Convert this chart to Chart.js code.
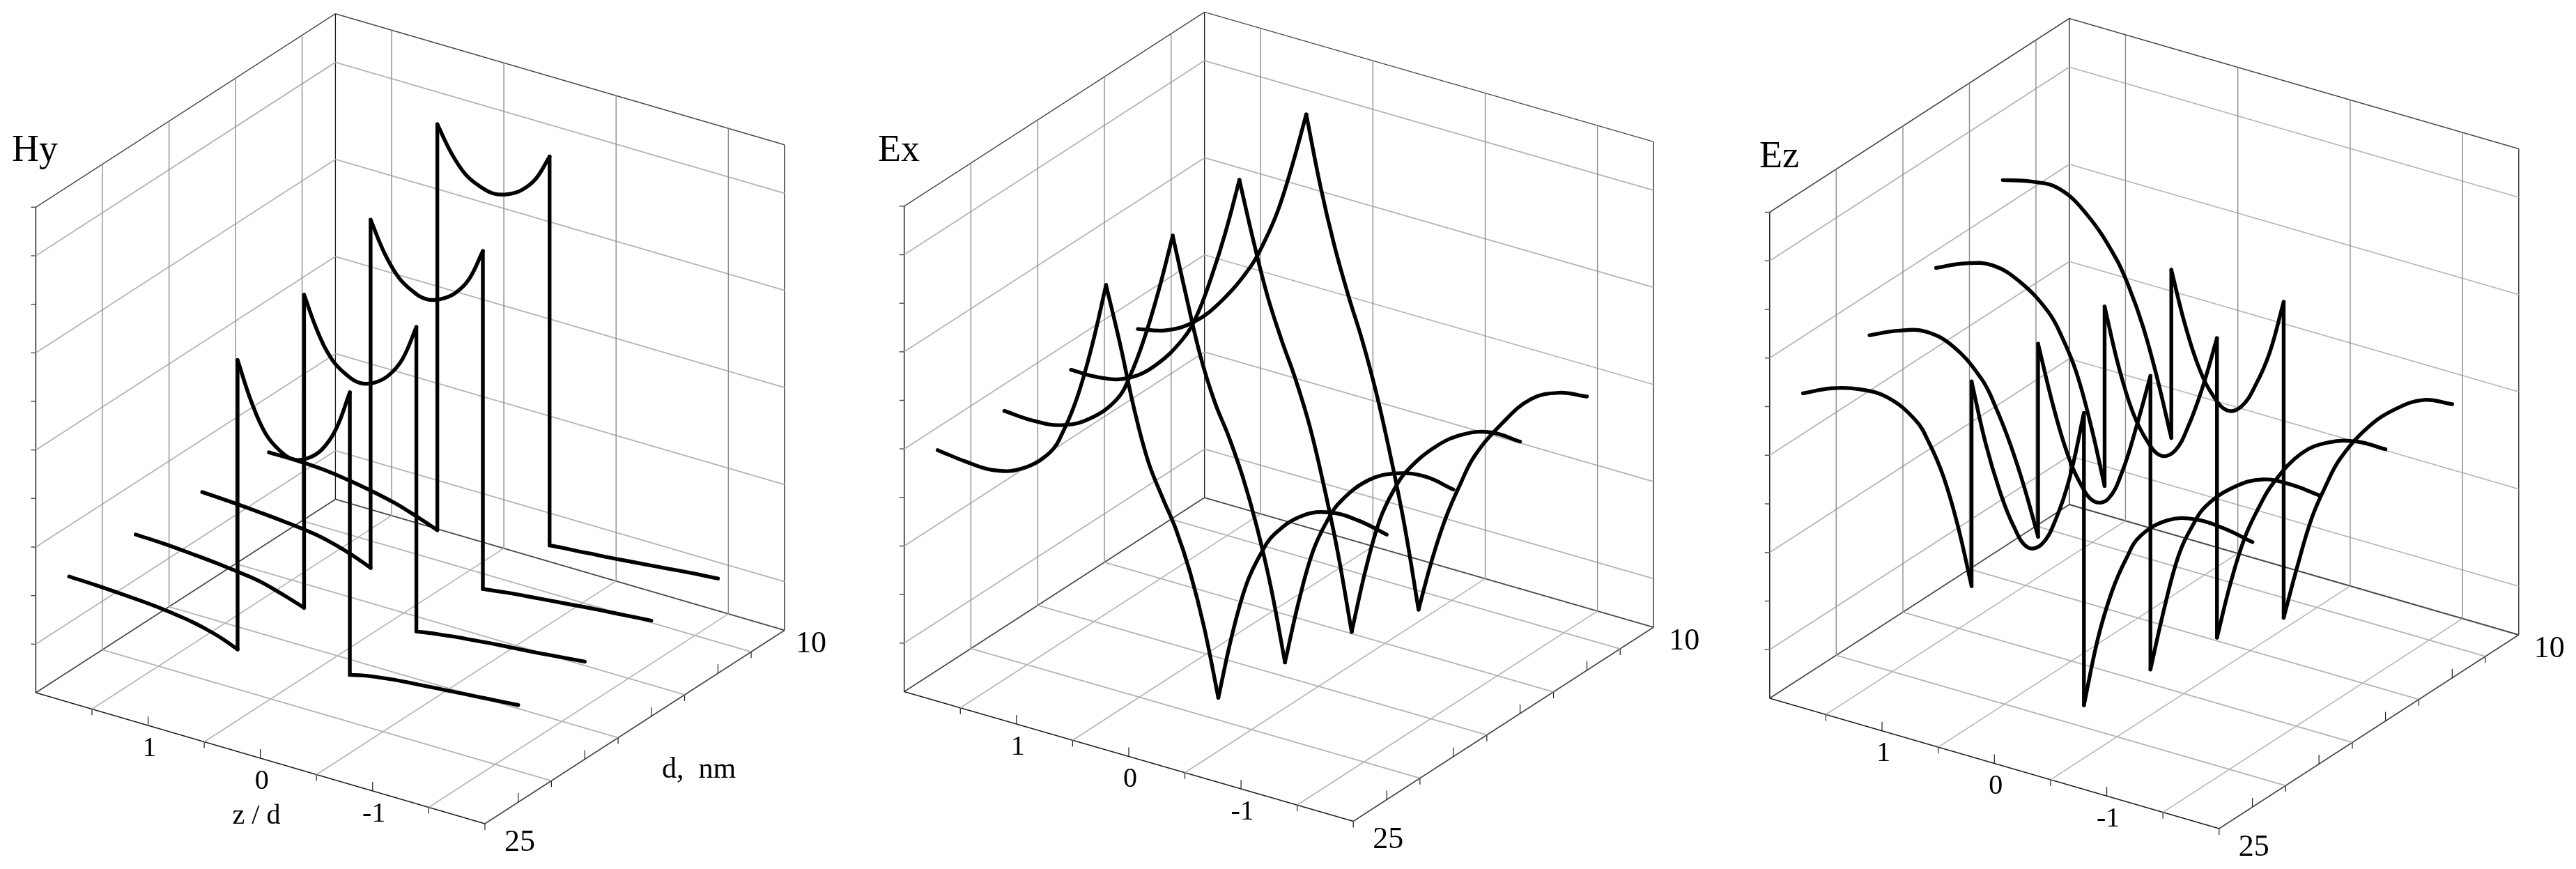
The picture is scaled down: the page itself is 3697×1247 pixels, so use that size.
<!DOCTYPE html>
<html>
<head>
<meta charset="utf-8">
<title>Hy Ex Ez</title>
<script src="https://cdn.jsdelivr.net/npm/chart.js"></script>
<style>
    html, body { margin: 0; background: #fff; }
    canvas { position: absolute; top: 0; }
</style>
</head>
<body>
<canvas id="chartHy" style="left:0"></canvas>
<canvas id="chartEx" style="left:1240px"></canvas>
<canvas id="chartEz" style="left:2480px"></canvas>
<script>
// z/d samples for the three regions, +-0.5 are the layer boundaries
const zLeft = [2, 1.75, 1.5, 1.25, 1, 0.875, 0.75, 0.625, 0.5];
const zInner = [0.5, 0.375, 0.25, 0.125, 0, -0.125, -0.25, -0.375, -0.5];
const zRight = [-0.5, -0.625, -0.75, -0.875, -1, -1.25, -1.5, -1.75, -2];
const dLevels = [23.33, 20, 16.67, 13.33];

const hyLeft = [
    [1.95, 1.93, 1.9, 1.86, 1.79, 1.74, 1.67, 1.58, 1.46],
    [1.93, 1.91, 1.87, 1.82, 1.75, 1.7, 1.62, 1.53, 1.43],
    [1.92, 1.89, 1.85, 1.8, 1.73, 1.67, 1.59, 1.49, 1.37],
    [1.85, 1.85, 1.82, 1.74, 1.63, 1.56, 1.47, 1.37, 1.26],
];
const hyInner = [
    [7.42, 6.63, 6.07, 5.81, 5.71, 5.82, 6.08, 6.58, 7.43],
    [7.88, 7.18, 6.71, 6.49, 6.4, 6.49, 6.72, 7.14, 7.89],
    [8.54, 7.93, 7.52, 7.32, 7.24, 7.33, 7.53, 7.9, 8.57],
    [9.62, 9.11, 8.76, 8.6, 8.53, 8.6, 8.77, 9.08, 9.63],
];
const hyRight = [
    [1.61, 1.68, 1.73, 1.77, 1.8, 1.85, 1.9, 1.95, 2.0],
    [1.62, 1.67, 1.71, 1.75, 1.78, 1.84, 1.89, 1.95, 2.01],
    [1.61, 1.65, 1.69, 1.72, 1.75, 1.81, 1.87, 1.92, 1.97],
    [1.62, 1.65, 1.67, 1.7, 1.72, 1.78, 1.84, 1.9, 1.95],
];

const exLeft = [
    [4.53, 4.46, 4.45, 4.65, 5.15, 5.7, 6.5, 7.6, 8.93],
    [4.45, 4.42, 4.49, 4.78, 5.35, 5.95, 6.8, 7.85, 9.06],
    [4.41, 4.42, 4.57, 5.0, 5.72, 6.3, 7.15, 8.15, 9.32],
    [4.36, 4.5, 4.84, 5.45, 6.3, 6.9, 7.65, 8.65, 9.78],
];
const exInner = [
    [8.93, 7.8, 6.55, 5.55, 4.9, 4.3, 3.5, 2.45, 1.1],
    [9.06, 7.85, 6.72, 5.88, 5.25, 4.5, 3.56, 2.4, 0.94],
    [9.32, 8.15, 7.1, 6.28, 5.55, 4.68, 3.55, 2.25, 0.68],
    [9.78, 8.4, 7.25, 6.3, 5.45, 4.45, 3.25, 1.9, 0.25],
];
const exRight = [
    [1.1, 2.5, 3.6, 4.3, 4.8, 5.35, 5.58, 5.58, 5.46],
    [0.94, 2.3, 3.4, 4.1, 4.6, 5.2, 5.5, 5.6, 5.5],
    [0.68, 2.05, 3.15, 3.85, 4.35, 5.0, 5.42, 5.62, 5.6],
    [0.25, 1.4, 2.35, 3.1, 3.75, 4.6, 5.25, 5.55, 5.64],
];

const ezLeft = [
    [5.83, 6.1, 6.25, 6.25, 5.95, 5.55, 4.95, 4.05, 2.87],
    [6.14, 6.4, 6.55, 6.4, 5.9, 5.4, 4.75, 3.95, 3.0],
    [6.64, 6.9, 7.03, 6.85, 6.4, 5.95, 5.32, 4.35, 3.16],
    [7.56, 7.7, 7.72, 7.35, 6.65, 6.1, 5.37, 4.4, 3.26],
];
const ezInner = [
    [7.08, 5.89, 5.0, 4.35, 4.0, 4.15, 4.75, 5.7, 7.1],
    [6.97, 5.86, 4.95, 4.35, 4.06, 4.2, 4.85, 5.85, 6.98],
    [6.85, 5.7, 4.85, 4.35, 4.12, 4.3, 4.92, 5.8, 6.87],
    [6.72, 5.65, 4.85, 4.37, 4.16, 4.33, 4.85, 5.6, 6.73],
];
const ezRight = [
    [1.09, 2.55, 3.6, 4.35, 4.9, 5.4, 5.58, 5.56, 5.45],
    [0.94, 2.3, 3.45, 4.15, 4.65, 5.2, 5.52, 5.58, 5.53],
    [0.71, 1.95, 2.95, 3.65, 4.22, 5.0, 5.4, 5.58, 5.59],
    [0.23, 1.4, 2.45, 3.2, 3.83, 4.65, 5.2, 5.55, 5.63],
];

// axes of the box
const zRange = [2, -2];
const dRange = [25, 10];
const valueRange = [0, 10];
const zGridLines = [1.5, 0.5, -0.5, -1.5];
const zTickValues = [1, 0, -1];
const zTickLabels = ["1", "0", "-1"];
const dGridLines = [21.67, 18.33, 15, 11.67];
const dTickValues = [23.33, 20, 16.67, 13.33];
const valueGridLines = [1, 3, 5, 7, 9];
const valueTicks = [2, 4, 6, 8, 10];

const colorGrid = "#b4b4b4";
const colorWall = "#8c8c8c";
const colorEdge = "#4a4a4a";
const colorFront = "#1e1e1e";
const serif = "'Liberation Serif', serif";
const curveWidth = 5.4;

function project(panel, z, d, value) {
    const u = (zRange[0] - z) / (zRange[0] - zRange[1]);
    const v = (dRange[0] - d) / (dRange[0] - dRange[1]);
    const w = (value - valueRange[0]) / (valueRange[1] - valueRange[0]);
    return {
        x: panel.originX + u * panel.zAxis[0] + v * panel.dAxis[0],
        y: panel.originY + u * panel.zAxis[1] + v * panel.dAxis[1] - w * panel.height,
    };
}

function lineSet(points, color, width, tension) {
    return {
        data: points,
        borderColor: color,
        borderWidth: width,
        tension: tension || 0,
        pointRadius: 0,
        fill: false,
        showLine: true,
        borderCapStyle: tension === undefined ? "butt" : "round",
        order: tension === undefined ? 2 : 1,
    };
}

function boxDatasets(panel) {
    const sets = [];
    const [z0, z1] = zRange;
    const [d0, d1] = dRange;
    const [v0, v1] = valueRange;
    const p = (z, d, v) => project(panel, z, d, v);
    const add = (a, b, color, width) => sets.push(lineSet([a, b], color, width));

    zGridLines.forEach((z) => {
        add(p(z, d0, v0), p(z, d1, v0), colorGrid, 1.6);
        add(p(z, d1, v0), p(z, d1, v1), colorWall, 1.4);
        const t = p(z, d0, v0);
        add(t, { x: t.x, y: t.y + 9 }, colorFront, 1.2);
    });
    dGridLines.forEach((d) => {
        add(p(z0, d, v0), p(z1, d, v0), colorGrid, 1.8);
        add(p(z0, d, v0), p(z0, d, v1), colorWall, 1.4);
        const t = p(z1, d, v0);
        add(t, { x: t.x, y: t.y + 9 }, colorFront, 1.2);
    });
    valueGridLines.forEach((v) => {
        add(p(z0, d0, v), p(z0, d1, v), colorGrid, 1.8);
        add(p(z0, d1, v), p(z1, d1, v), colorGrid, 1.8);
    });
    valueGridLines.concat(valueTicks).forEach((v) => {
        const t = p(z0, d0, v);
        add(t, { x: t.x - 7, y: t.y }, colorEdge, 1.4);
    });
    zTickValues.forEach((z) => {
        const t = p(z, d0, v0);
        add(t, { x: t.x, y: t.y - 13 }, colorFront, 1.2);
    });
    dTickValues.forEach((d) => {
        const t = p(z1, d, v0);
        add(t, { x: t.x, y: t.y - 13 }, colorFront, 1.2);
    });

    // outer edges of the box
    add(p(z0, d0, v0), p(z0, d0, v1), colorFront, 1.5);
    add(p(z0, d1, v0), p(z0, d1, v1), colorFront, 1.3);
    add(p(z1, d1, v0), p(z1, d1, v1), colorEdge, 1.6);
    add(p(z0, d0, v1), p(z0, d1, v1), colorEdge, 1.5);
    add(p(z0, d1, v1), p(z1, d1, v1), colorEdge, 1.5);
    add(p(z0, d0, v0), p(z1, d0, v0), colorFront, 1.5);
    add(p(z1, d0, v0), p(z1, d1, v0), colorEdge, 1.8);
    add(p(z0, d0, v0), p(z0, d1, v0), colorEdge, 1.8);
    add(p(z0, d1, v0), p(z1, d1, v0), colorEdge, 2);
    add(p(z1, d0, v0), { x: p(z1, d0, v0).x, y: p(z1, d0, v0).y + 9 }, colorFront, 1.2);
    return sets;
}

function curveDatasets(panel, left, inner, right) {
    const sets = [];
    dLevels.forEach((d, i) => {
        const a = zLeft.map((z, k) => project(panel, z, d, left[i][k]));
        const b = zInner.map((z, k) => project(panel, z, d, inner[i][k]));
        const c = zRight.map((z, k) => project(panel, z, d, right[i][k]));
        // three smooth pieces, joined by straight jumps at the boundaries
        sets.push(lineSet(a, "#000", curveWidth, 0.4));
        sets.push(lineSet(b, "#000", curveWidth, 0.4));
        sets.push(lineSet(c, "#000", curveWidth, 0.4));
        sets.push(lineSet([a[a.length - 1], b[0]], "#000", curveWidth, 0.0001));
        sets.push(lineSet([b[b.length - 1], c[0]], "#000", curveWidth, 0.0001));
    });
    return sets;
}

const textPlugin = {
    id: "panelText",
    afterDraw(chart, args, opts) {
        const ctx = chart.ctx;
        const sx = chart.scales.x;
        const sy = chart.scales.y;
        const panel = opts.panel;
        ctx.save();
        ctx.fillStyle = "#000";
        ctx.textAlign = "center";
        ctx.textBaseline = "middle";
        const put = (text, x, y, size) => {
            ctx.font = size + "px " + serif;
            ctx.fillText(text, sx.getPixelForValue(x), sy.getPixelForValue(y));
        };
        zTickLabels.forEach((label, i) => {
            const t = project(panel, zTickValues[i], dRange[0], valueRange[0]);
            put(label, t.x + 2, t.y + 33, 40);
        });
        const c10 = project(panel, zRange[1], dRange[1], valueRange[0]);
        const c25 = project(panel, zRange[1], dRange[0], valueRange[0]);
        put(String(dRange[1]), c10.x + panel.tenOffset, c10.y + 20, 44);
        put(String(dRange[0]), c25.x + 50, c25.y + 27, 44);
        ctx.textAlign = "left";
        ctx.textBaseline = "alphabetic";
        put(panel.title, panel.titleX, panel.titleY, 54);
        if (panel.axisTitles) {
            ctx.textAlign = "center";
            ctx.textBaseline = "middle";
            put("z / d", 368, 1171, 40);
            put("d,  nm", 1003, 1105, 42);
        }
        ctx.restore();
    },
};

function makeChart(id, width, panel, left, inner, right) {
    const canvas = document.getElementById(id);
    canvas.width = width;
    canvas.height = 1247;
    return new Chart(canvas, {
        type: "scatter",
        data: { datasets: curveDatasets(panel, left, inner, right).concat(boxDatasets(panel)) },
        options: {
            responsive: false,
            animation: false,
            events: [],
            layout: { padding: 0 },
            scales: {
                x: { type: "linear", display: false, min: 0, max: width },
                y: { type: "linear", display: false, min: 0, max: 1247, reverse: true },
            },
            plugins: {
                legend: { display: false },
                tooltip: { enabled: false },
                panelText: { panel: panel },
            },
        },
        plugins: [textPlugin],
    });
}

makeChart("chartHy", 1240, {
    title: "Hy", titleX: 17, titleY: 231, axisTitles: true, tenOffset: 38,
    originX: 51.4, originY: 994, zAxis: [644.5, 188], dAxis: [430, -277.6], height: 696.7,
}, hyLeft, hyInner, hyRight);

makeChart("chartEx", 1240, {
    title: "Ex", titleX: 20, titleY: 231, axisTitles: false, tenOffset: 44,
    originX: 57.7, originY: 992.5, zAxis: [644.5, 186], dAxis: [431, -278.4], height: 696.7,
}, exLeft, exInner, exRight);

makeChart("chartEz", 1217, {
    title: "Ez", titleX: 45, titleY: 240, axisTitles: false, tenOffset: 44,
    originX: 59.8, originY: 1002, zAxis: [645, 187], dAxis: [430, -278], height: 697.5,
}, ezLeft, ezInner, ezRight);
</script>
</body>
</html>
